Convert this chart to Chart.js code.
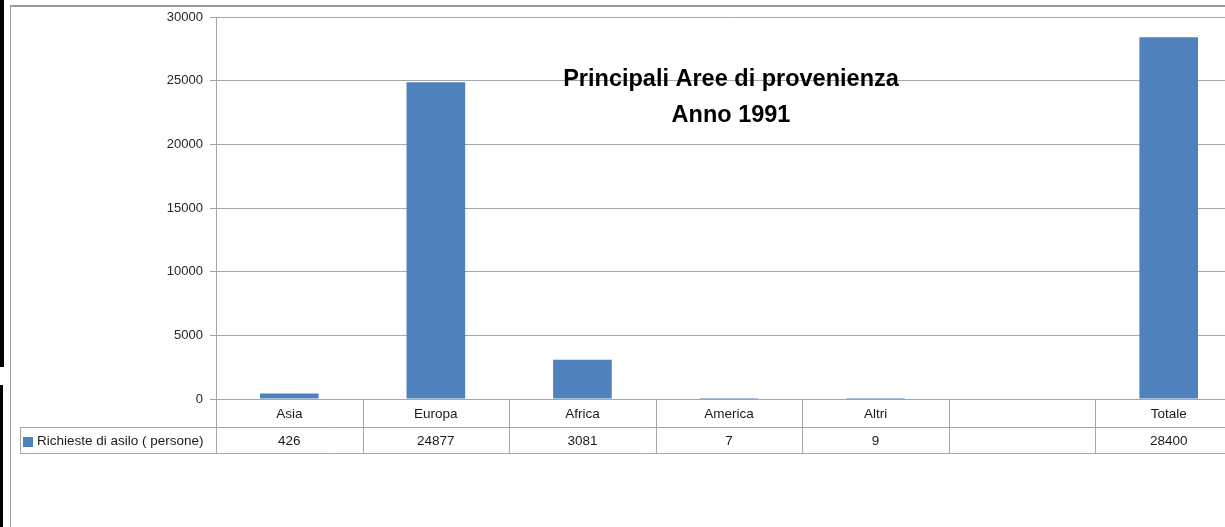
<!DOCTYPE html>
<html>
<head>
<meta charset="utf-8">
<script src="https://cdn.jsdelivr.net/npm/chart.js@4"></script>
<style>
  html, body { margin: 0; padding: 0; background: #fff; overflow: hidden; width: 1225px; height: 527px; }
  #wrap { position: absolute; left: 0; top: 0; width: 1260px; height: 527px; }
  .blk { position: absolute; left: 0; width: 3px; background: #000; }
  .frame { position: absolute; left: 10px; top: 5px; width: 1300px; height: 600px; border-left: 1px solid #999; border-top: 2px solid #999; box-sizing: border-box; }
</style>
</head>
<body>
<div class="blk" style="top:0;height:367px;width:4px"></div>
<div class="blk" style="top:385px;height:142px"></div>
<div class="frame"></div>
<div id="wrap"><canvas id="c" width="1260" height="527"></canvas></div>
<script>
const categories = ["Asia", "Europa", "Africa", "America", "Altri", "", "Totale"];
const values = [426, 24877, 3081, 7, 9, null, 28400];
const seriesName = "Richieste di asilo ( persone)";
const titleLines = ["Principali Aree di provenienza", "Anno 1991"];
const yTicks = [0, 5000, 10000, 15000, 20000, 25000, 30000];

const BAR = "#4f81bd";
const LINE = "#a6a6a6";
const FONT = "'Liberation Sans', Arial, sans-serif";

const tablePlugin = {
  id: "tablePlugin",
  afterDraw(chart) {
    const ctx = chart.ctx;
    const x = chart.scales.x;
    const ca = chart.chartArea;
    const n = categories.length;
    const w = (ca.right - ca.left) / n;
    const top = ca.bottom, mid = ca.bottom + 28, bot = ca.bottom + 54;
    const legL = 20;
    ctx.save();
    ctx.strokeStyle = LINE;
    ctx.lineWidth = 1;
    ctx.beginPath();
    ctx.moveTo(ca.left, top + 0.5); ctx.lineTo(ca.right + 20, top + 0.5);
    ctx.moveTo(legL, mid + 0.5); ctx.lineTo(ca.right + 20, mid + 0.5);
    ctx.moveTo(legL, bot + 0.5); ctx.lineTo(ca.right + 20, bot + 0.5);
    ctx.moveTo(legL + 0.5, mid); ctx.lineTo(legL + 0.5, bot);
    for (let i = 0; i <= n; i++) {
      const xx = Math.round(ca.left + i * w) + 0.5;
      ctx.moveTo(xx, top); ctx.lineTo(xx, bot);
    }
    ctx.stroke();
    ctx.fillStyle = "#1a1a1a";
    ctx.font = "13.5px " + FONT;
    ctx.textAlign = "center";
    ctx.textBaseline = "middle";
    for (let i = 0; i < n; i++) {
      const cx = x.getPixelForValue(i);
      ctx.fillText(categories[i], cx, (top + mid) / 2 + 1);
      if (values[i] !== null) ctx.fillText(String(values[i]), cx, (mid + bot) / 2 + 1);
    }
    ctx.fillStyle = BAR;
    ctx.fillRect(23, mid + 10, 10, 10);
    ctx.fillStyle = "#1a1a1a";
    ctx.textAlign = "left";
    ctx.fillText(seriesName, 37, (mid + bot) / 2 + 1);
    ctx.fillStyle = "#000";
    ctx.font = "bold 23.5px " + FONT;
    ctx.textAlign = "center";
    const tx = (ca.left + ca.right) / 2 + 2;
    ctx.fillText(titleLines[0], tx, 80);
    ctx.fillText(titleLines[1], tx, 116);
    ctx.restore();
  }
};

new Chart(document.getElementById("c"), {
  type: "bar",
  data: {
    labels: categories,
    datasets: [{
      label: seriesName,
      data: values,
      backgroundColor: BAR,
      borderWidth: 0,
      inflateAmount: 0,
      barPercentage: 0.5,
      categoryPercentage: 0.8
    }]
  },
  options: {
    responsive: false,
    animation: false,
    devicePixelRatio: 1,
    layout: { padding: { top: 17, bottom: 128, right: 18, left: 0 } },
    plugins: { legend: { display: false }, tooltip: { enabled: false }, title: { display: false } },
    scales: {
      x: { display: false, offset: true },
      y: {
        min: 0, max: 30000,
        afterFit(s) { s.width = 216; },
        afterBuildTicks(s) { s.ticks = yTicks.map(v => ({ value: v })); },
        ticks: { color: "#262626", font: { family: FONT, size: 13 }, padding: 7, callback: v => String(v) },
        grid: { color: LINE, tickLength: 6, drawTicks: true },
        border: { color: LINE }
      }
    }
  },
  plugins: [tablePlugin]
});
</script>
</body>
</html>
